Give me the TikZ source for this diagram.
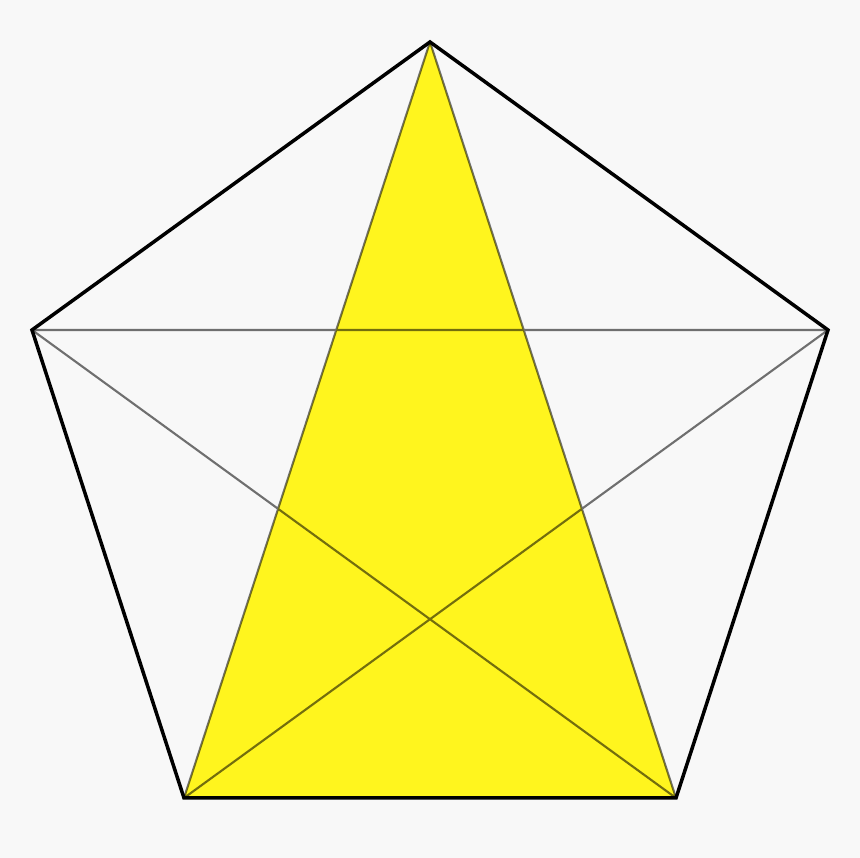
\documentclass[tikz,border=0pt]{standalone}
\definecolor{paleback}{RGB}{248,248,248}
\definecolor{staryellow}{RGB}{255,245,30}

\begin{document}
\begin{tikzpicture}
				\fill[paleback] (0,0) rectangle (8.60,8.58);
				\useasboundingbox (0,0) rectangle (8.60,8.58);
				\coordinate (top) at (4.30,8.16);
				\coordinate (right) at (8.28,5.28);
				\coordinate (lowright) at (6.76,0.60);
				\coordinate (lowleft) at (1.84,0.60);
				\coordinate (left) at (0.32,5.28);
				\fill[staryellow] (top) -- (lowleft) -- (lowright) -- cycle;
				\draw[line width=0.6,black,opacity=0.55]
					(top) -- (lowleft) (top) -- (lowright)
					(left) -- (right) (left) -- (lowright) (right) -- (lowleft);
				\draw[line width=1,line join=miter]
					(top) -- (right) -- (lowright) -- (lowleft) -- (left) -- cycle;
			\end{tikzpicture}
\end{document}
